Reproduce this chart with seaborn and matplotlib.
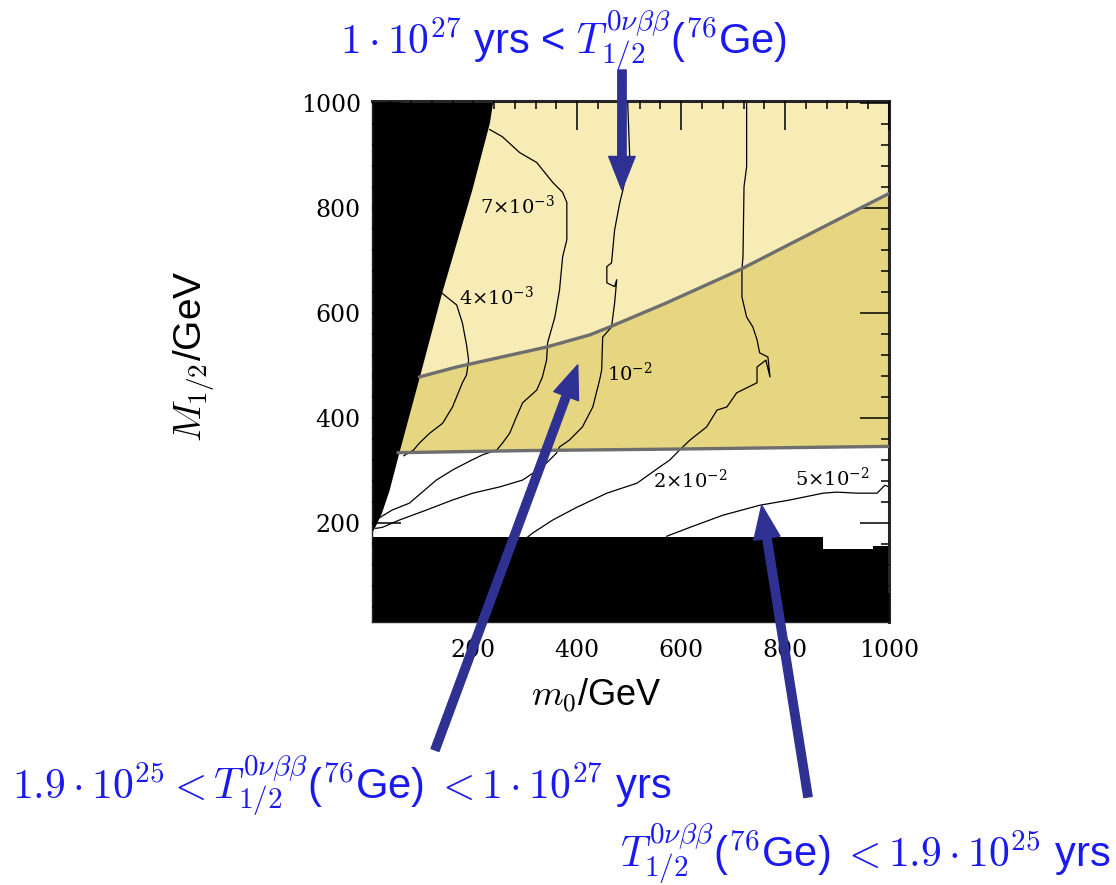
import matplotlib
matplotlib.use("Agg")
import matplotlib.pyplot as plt
import matplotlib.ticker as mticker
import seaborn as sns

# boundaries between the shaded regions (m0, M1/2 in GeV)
upper_m0 = [96, 168, 341, 424, 462, 572, 713, 867, 1000]
upper_M = [478, 497, 535, 558, 573, 619, 682, 760, 827]
lower_m0 = [55, 300, 600, 1000]
lower_M = [334, 338, 341, 346]

# excluded (black) regions
left_edge_M = [1010, 1000, 962, 834, 638, 478, 339, 263, 219, 192, 173, 0]
left_edge_m0 = [239, 237, 231, 197, 139, 96, 58, 38, 23, 10, 0, 0]
bottom_edge_m0 = [0, 873, 873, 969, 969, 1000]
bottom_edge_M = [173, 173, 150, 150, 156, 156]

# contour lines
c4_m0 = [139, 168, 179, 187, 191, 187, 179, 160, 141, 116, 96, 85, 66]
c4_M = [638, 615, 581, 539, 510, 482, 467, 421, 390, 371, 352, 339, 328]
c7_m0 = [231, 256, 289, 322, 353, 372, 380, 380, 372, 366, 357, 343, 341, 333,
         322, 295, 283, 270, 256, 245, 218, 193, 160, 129, 77, 44, 19]
c7_M = [949, 935, 905, 886, 848, 829, 810, 739, 707, 644, 592, 543, 510, 478,
        453, 429, 402, 371, 352, 339, 330, 318, 301, 282, 238, 225, 210]
c10_m0 = [497, 501, 488, 482, 472, 466, 457, 457, 472, 476, 472, 466, 449, 447,
          443, 430, 410, 385, 366, 360, 333, 295, 251, 199, 160, 110, 58, 25, 12]
c10_M = [1003, 897, 834, 810, 758, 695, 688, 657, 650, 663, 619, 573, 554, 491,
         472, 421, 383, 358, 345, 333, 307, 282, 269, 257, 244, 225, 206, 192, 190]
c20_m0 = [726, 726, 721, 719, 717, 717, 726, 738, 746, 751, 767, 771, 763, 746,
          746, 707, 688, 669, 649, 617, 597, 578, 559, 515, 457, 399, 353, 314, 304]
c20_M = [1003, 878, 840, 707, 682, 630, 592, 573, 549, 524, 516, 478, 510, 497,
         467, 448, 421, 415, 383, 358, 339, 320, 307, 276, 257, 230, 206, 181, 173]
c50_m0 = [572, 617, 680, 751, 809, 873, 900, 938, 977, 992, 1000]
c50_M = [175, 192, 215, 234, 244, 257, 259, 257, 257, 272, 269]

contour_labels = [r"$7{\times}10^{-3}$", r"$4{\times}10^{-3}$", r"$10^{-2}$",
                  r"$2{\times}10^{-2}$", r"$5{\times}10^{-2}$"]
label_m0 = [285, 245, 501, 617, 890]
label_M = [802, 630, 486, 282, 286]

light_yellow = "#f8ecb6"
dark_yellow = "#e6d681"
navy = "#2e3192"
blue = "#1a1af0"

sns.set_style("ticks")
plt.rcParams["font.family"] = ["Liberation Sans", "DejaVu Sans"]
plt.rcParams["mathtext.fontset"] = "cm"
plt.rcParams["text.color"] = "black"
plt.rcParams["axes.labelcolor"] = "black"
plt.rcParams["xtick.color"] = "black"
plt.rcParams["ytick.color"] = "black"

fig = plt.figure(figsize=(11.16, 8.85), dpi=100)
ax = fig.add_axes([0.3333, 0.2972, 0.4633, 0.5887])
ax.set_xlim(5, 1000)
ax.set_ylim(12, 1003)
ax.set_axisbelow(False)

# shaded regions
ax.fill_between(lower_m0, lower_M, 1010, color=dark_yellow, lw=0, zorder=1)
ax.fill_between(upper_m0, upper_M, 1010, color=light_yellow, lw=0, zorder=1.1)
ax.fill_betweenx(left_edge_M, 0, left_edge_m0, color="black", lw=0, zorder=1.5)
ax.fill_between(bottom_edge_m0, 0, bottom_edge_M, color="black", lw=0, zorder=1.5)

# region boundaries
sns.lineplot(x=upper_m0, y=upper_M, color="#6e6e6e", lw=2.4, ax=ax, zorder=3)
sns.lineplot(x=lower_m0, y=lower_M, color="#6e6e6e", lw=2.4, ax=ax, zorder=3)

# contours
for xs, ys in [(c4_m0, c4_M), (c7_m0, c7_M), (c10_m0, c10_M),
               (c20_m0, c20_M), (c50_m0, c50_M)]:
    sns.lineplot(x=xs, y=ys, sort=False, estimator=None, color="black",
                 lw=0.9, ax=ax, zorder=2)

for txt, x, y in zip(contour_labels, label_m0, label_M):
    ax.text(x, y, txt, fontsize=14, ha="center", va="center",
            fontfamily="DejaVu Serif", math_fontfamily="dejavuserif", zorder=4)

# axes styling
ax.set_xticks([200, 400, 600, 800, 1000])
ax.set_yticks([200, 400, 600, 800, 1000])
ax.xaxis.set_minor_locator(mticker.MultipleLocator(40))
ax.yaxis.set_minor_locator(mticker.MultipleLocator(40))
ax.tick_params(which="both", direction="in", top=True, right=True,
               left=True, bottom=True, color="black", width=1.1)
ax.tick_params(which="major", length=21, labelsize=17,
               labelfontfamily="DejaVu Serif", labelcolor="black")
ax.tick_params(which="minor", length=6)
ax.tick_params(axis="x", pad=12)
ax.tick_params(axis="y", pad=8)
for side in ["top", "right"]:
    ax.spines[side].set_linewidth(2.2)
for side in ["left", "bottom"]:
    ax.spines[side].set_linewidth(1)

ax.set_xlabel(r"$m_0$/GeV", fontsize=26)
ax.set_ylabel(r"$M_{1/2}$/GeV", fontsize=28)
ax.xaxis.set_label_coords(0.435, -0.105)
ax.yaxis.set_label_coords(-0.30, 0.51)

# annotations
fig.text(564 / 1116, 1 - 40 / 885,
         r"$1\cdot10^{27}$ yrs < $T^{0\nu\beta\beta}_{1/2}$($^{76}$Ge)",
         fontsize=30, color=blue, ha="center", va="center")
fig.text(12 / 1116, 1 - 785 / 885,
         r"$1.9\cdot10^{25} < T^{0\nu\beta\beta}_{1/2}$($^{76}$Ge)$\;<1\cdot10^{27}$ yrs",
         fontsize=30, color=blue, ha="left", va="center")
fig.text(1110 / 1116, 1 - 853 / 885,
         r"$T^{0\nu\beta\beta}_{1/2}$($^{76}$Ge)$\;<1.9\cdot10^{25}$ yrs",
         fontsize=30, color=blue, ha="right", va="center")

arrow = dict(arrowstyle="simple,head_length=24,head_width=19,tail_width=6",
             mutation_scale=1, color=navy, shrinkA=0, shrinkB=0)
ax.annotate("", xy=(486, 834), xycoords="data", xytext=(622, 885 - 70),
            textcoords="figure pixels", arrowprops=arrow, zorder=5)
ax.annotate("", xy=(401, 501), xycoords="data", xytext=(435, 885 - 750),
            textcoords="figure pixels", arrowprops=arrow, zorder=5)
ax.annotate("", xy=(755, 234), xycoords="data", xytext=(808, 885 - 797),
            textcoords="figure pixels", arrowprops=arrow, zorder=5)

fig.savefig("out.png", dpi=100)
